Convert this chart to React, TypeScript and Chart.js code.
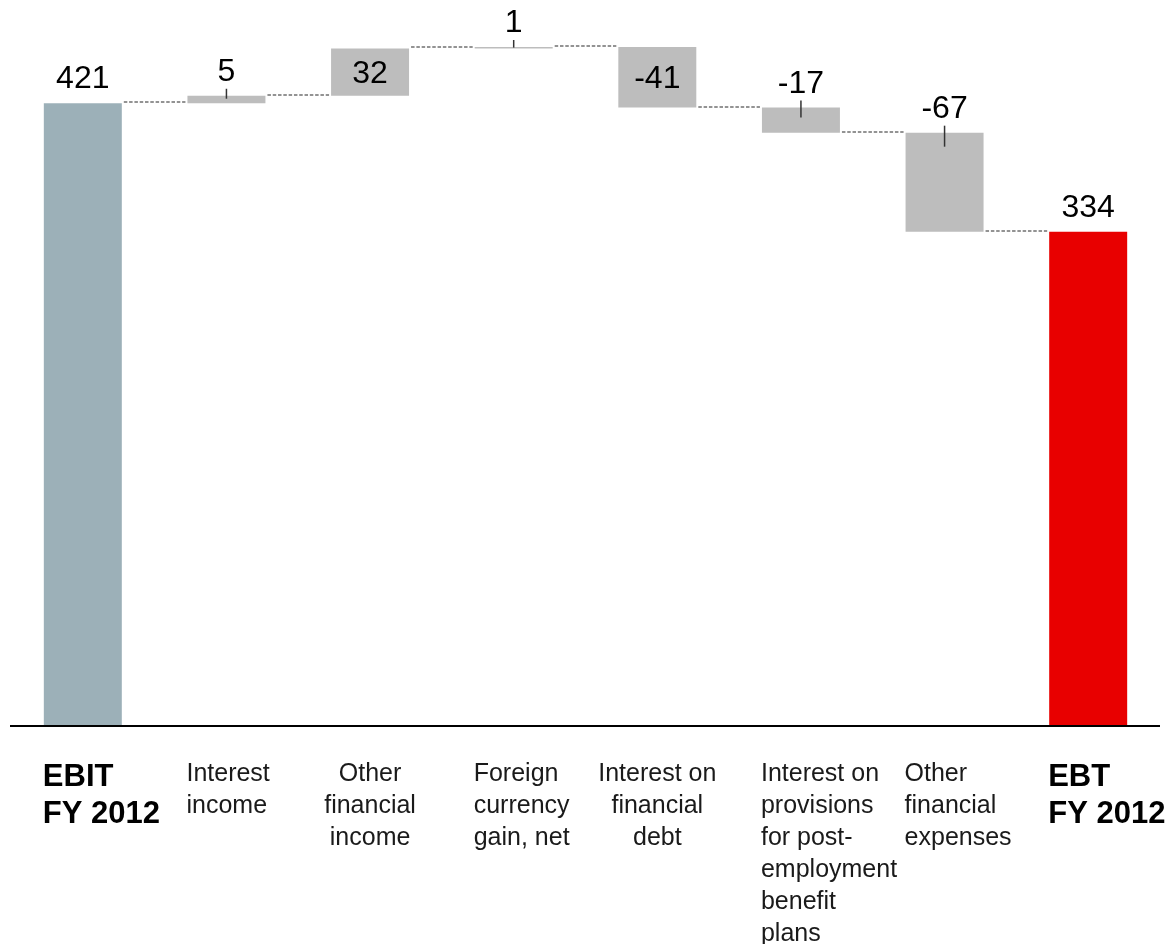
import React, { useEffect, useRef } from "react";
import { Chart, registerables } from "chart.js";

Chart.register(...registerables);

// ---- data ----
const categories: string[][] = [
  ["EBIT", "FY 2012"],
  ["Interest", "income"],
  ["Other", "financial", "income"],
  ["Foreign", "currency", "gain, net"],
  ["Interest on", "financial", "debt"],
  ["Interest on", "provisions", "for post-", "employment", "benefit", "plans"],
  ["Other", "financial", "expenses"],
  ["EBT", "FY 2012"],
];
const startValue = 421;
const deltas = [5, 32, 1, -41, -17, -67];
const endValue = 334;
const valueLabels = ["421", "5", "32", "1", "-41", "-17", "-67", "334"];
const yMin = 0;
const yMax = 480;

// ---- presentation ----
const labelPlacement = ["above", "above", "inside", "above", "inside", "above", "above", "above"];
const categoryAlign = ["left", "left", "center", "left", "center", "left", "left", "left"];
const boldCategory = [true, false, false, false, false, false, false, true];
const barColors = [
  "#9cb0b8",
  "#bdbdbd",
  "#bdbdbd",
  "#bdbdbd",
  "#bdbdbd",
  "#bdbdbd",
  "#bdbdbd",
  "#e80000",
];
const FONT = "'Liberation Sans', Arial, Helvetica, sans-serif";

function buildRanges() {
  const ranges: [number, number][] = [[0, startValue]];
  const levels: number[] = [startValue];
  let run = startValue;
  for (const d of deltas) {
    ranges.push([run, run + d]);
    run += d;
    levels.push(run);
  }
  ranges.push([0, endValue]);
  levels.push(endValue);
  return { ranges, levels };
}

export default function App() {
  const ref = useRef<HTMLCanvasElement | null>(null);

  useEffect(() => {
    if (!ref.current) return;
    const { ranges, levels } = buildRanges();

    const overlay = {
      id: "waterfallOverlay",
      afterDatasetsDraw(chart: any) {
        const { ctx, chartArea, scales } = chart;
        const ys = scales.y;
        const meta = chart.getDatasetMeta(0);
        ctx.save();

        // axis line
        ctx.fillStyle = "#000";
        ctx.fillRect(chartArea.left - 1, chartArea.bottom, chartArea.right - chartArea.left + 1, 2);

        // connectors
        ctx.strokeStyle = "#707070";
        ctx.lineWidth = 1.5;
        ctx.setLineDash([3.5, 1.8]);
        for (let i = 0; i < ranges.length - 1; i++) {
          const a = meta.data[i];
          const b = meta.data[i + 1];
          const y = Math.round(ys.getPixelForValue(levels[i])) - 1;
          ctx.beginPath();
          ctx.moveTo(a.x + a.width / 2 + 2, y);
          ctx.lineTo(b.x - b.width / 2 - 2, y);
          ctx.stroke();
        }
        ctx.setLineDash([]);

        // value labels
        ctx.fillStyle = "#000";
        ctx.font = `32px ${FONT}`;
        ctx.textAlign = "center";
        ctx.textBaseline = "alphabetic";
        for (let i = 0; i < ranges.length; i++) {
          const el = meta.data[i];
          const y1 = ys.getPixelForValue(ranges[i][0]);
          const y2 = ys.getPixelForValue(ranges[i][1]);
          const top = Math.min(y1, y2);
          const h = Math.abs(y2 - y1);
          const cx = el.x;
          if (labelPlacement[i] === "inside") {
            ctx.fillText(valueLabels[i], cx, top + h / 2 + 11);
          } else {
            const base = top - 15;
            ctx.fillText(valueLabels[i], cx, base);
            if (i > 0 && i < ranges.length - 1) {
              ctx.strokeStyle = "#333";
              ctx.lineWidth = 1.5;
              ctx.beginPath();
              ctx.moveTo(cx, base + 8);
              ctx.lineTo(cx, top + Math.min(14, h * 0.4));
              ctx.stroke();
            }
          }
        }

        // category labels
        for (let i = 0; i < categories.length; i++) {
          const el = meta.data[i];
          const bold = boldCategory[i];
          ctx.font = bold ? `bold 31px ${FONT}` : `25px ${FONT}`;
          ctx.fillStyle = bold ? "#000" : "#1a1a1a";
          const lh = bold ? 37 : 32;
          const first = bold ? 786 : 781;
          let x: number;
          if (categoryAlign[i] === "center") {
            ctx.textAlign = "center";
            x = el.x;
          } else {
            ctx.textAlign = "left";
            x = el.x - el.width / 2 - 1;
          }
          categories[i].forEach((line, k) => {
            ctx.fillText(line, x, first + k * lh);
          });
        }
        ctx.restore();
      },
    };

    const chart = new Chart(ref.current, {
      type: "bar",
      data: {
        labels: categories.map((c) => c.join(" ")),
        datasets: [
          {
            data: ranges as any,
            backgroundColor: barColors,
            borderWidth: 0,
            borderSkipped: false,
            barPercentage: 0.543,
            categoryPercentage: 1,
          },
        ],
      },
      options: {
        responsive: false,
        animation: false,
        layout: { padding: { left: 11, right: 7, top: 16, bottom: 219 } },
        plugins: { legend: { display: false }, tooltip: { enabled: false } },
        scales: {
          x: { display: false, offset: true, grid: { display: false } },
          y: { display: false, min: yMin, max: yMax, grid: { display: false } },
        },
      },
      plugins: [overlay],
    });
    return () => chart.destroy();
  }, []);

  return (
    <div style={{ position: "absolute", left: 0, top: 0, width: 1167, height: 944, background: "#fff" }}>
      <canvas ref={ref} width={1167} height={944} style={{ display: "block", width: 1167, height: 944 }} />
    </div>
  );
}
